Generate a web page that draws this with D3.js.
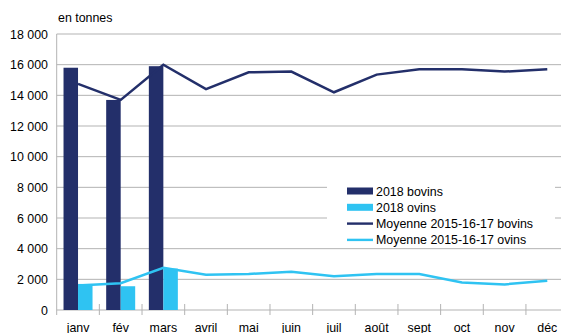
<!DOCTYPE html>
<html lang="fr">
<head>
<meta charset="UTF-8">
<title>Abattages</title>
<script src="https://cdn.jsdelivr.net/npm/d3@7/dist/d3.min.js"></script>
<style>
  body { margin: 0; background: #fff; }
  svg { font-family: "Liberation Sans", Arial, sans-serif; font-size: 12.4px; }
  .grid line { stroke: #b3b3b3; stroke-width: 1; }
</style>
</head>
<body>
<script>
  const months = ["janv","fév","mars","avril","mai","juin","juil","août","sept","oct","nov","déc"];
  const bovins2018 = [15800, 13700, 15900];
  const ovins2018 = [1700, 1550, 2700];
  const moyBovins = [14750, 13700, 16000, 14400, 15500, 15550, 14200, 15350, 15700, 15700, 15550, 15700];
  const moyOvins = [1600, 1750, 2750, 2300, 2350, 2500, 2200, 2350, 2350, 1800, 1670, 1900];
  const yTicks = [0, 2000, 4000, 6000, 8000, 10000, 12000, 14000, 16000, 18000];

  const colBov = "#232f6a", colOv = "#2fc3f2";
  const width = 561, height = 333;
  const m = { left: 56.7, right: 568.6, top: 34, bottom: 310 };

  const svg = d3.select("body").append("svg")
    .attr("width", width).attr("height", height);

  const x = d3.scaleBand().domain(months).range([m.left, m.right]);
  const y = d3.scaleLinear().domain([0, 18000]).range([m.bottom, m.top]);
  const bw = x.bandwidth() * 0.34;

  // grille horizontale
  svg.append("g").attr("class", "grid")
    .selectAll("line").data(yTicks).enter().append("line")
    .attr("x1", m.left).attr("x2", width)
    .attr("y1", d => y(d)).attr("y2", d => y(d));

  // axe y
  svg.append("line").attr("x1", m.left).attr("x2", m.left)
    .attr("y1", m.top).attr("y2", m.bottom + 5).attr("stroke", "#b3b3b3");

  const fmt = d => d3.format(",")(d).replace(/,/g, " ");
  svg.append("g").selectAll("text").data(yTicks).enter().append("text")
    .attr("x", 48).attr("y", d => y(d) + 4.5)
    .attr("text-anchor", "end").attr("fill", "#000")
    .text(fmt);

  // ticks x
  svg.append("g").selectAll("line").data(months.slice(1)).enter().append("line")
    .attr("x1", d => x(d)).attr("x2", d => x(d))
    .attr("y1", m.bottom - 6).attr("y2", m.bottom + 5)
    .attr("stroke", "#b3b3b3");

  svg.append("g").selectAll("text").data(months).enter().append("text")
    .attr("x", d => x(d) + x.bandwidth() / 2).attr("y", 331.5)
    .attr("text-anchor", "middle").text(d => d);

  svg.append("text").attr("x", 58).attr("y", 22).text("en tonnes");

  // barres
  svg.append("g").selectAll("rect").data(bovins2018).enter().append("rect")
    .attr("x", (d, i) => x(months[i]) + x.bandwidth() / 2 - bw)
    .attr("width", bw).attr("y", d => y(d)).attr("height", d => m.bottom - y(d))
    .attr("fill", colBov);
  svg.append("g").selectAll("rect").data(ovins2018).enter().append("rect")
    .attr("x", (d, i) => x(months[i]) + x.bandwidth() / 2)
    .attr("width", bw).attr("y", d => y(d)).attr("height", d => m.bottom - y(d))
    .attr("fill", colOv);

  // lignes
  const line = d3.line()
    .x((d, i) => x(months[i]) + x.bandwidth() / 2)
    .y(d => y(d));
  svg.append("path").datum(moyBovins).attr("d", line)
    .attr("fill", "none").attr("stroke", colBov).attr("stroke-width", 2.5);
  svg.append("path").datum(moyOvins).attr("d", line)
    .attr("fill", "none").attr("stroke", colOv).attr("stroke-width", 2.5);

  // légende
  const legend = [
    { label: "2018 bovins", color: colBov, type: "bar" },
    { label: "2018 ovins", color: colOv, type: "bar" },
    { label: "Moyenne 2015-16-17 bovins", color: colBov, type: "line" },
    { label: "Moyenne 2015-16-17 ovins", color: colOv, type: "line" }
  ];
  svg.append("rect").attr("x", 327).attr("y", 180).attr("width", 228).attr("height", 66)
    .attr("fill", "#fff");
  const lg = svg.append("g").selectAll("g").data(legend).enter().append("g")
    .attr("transform", (d, i) => `translate(347,${191 + i * 16.3})`);
  lg.append("rect")
    .attr("x", 0).attr("width", 26)
    .attr("y", d => d.type === "bar" ? -3.5 : -1.2)
    .attr("height", d => d.type === "bar" ? 7 : 2.4)
    .attr("fill", d => d.color);
  lg.append("text").attr("x", 29).attr("y", 4.5).text(d => d.label);
</script>
</body>
</html>
